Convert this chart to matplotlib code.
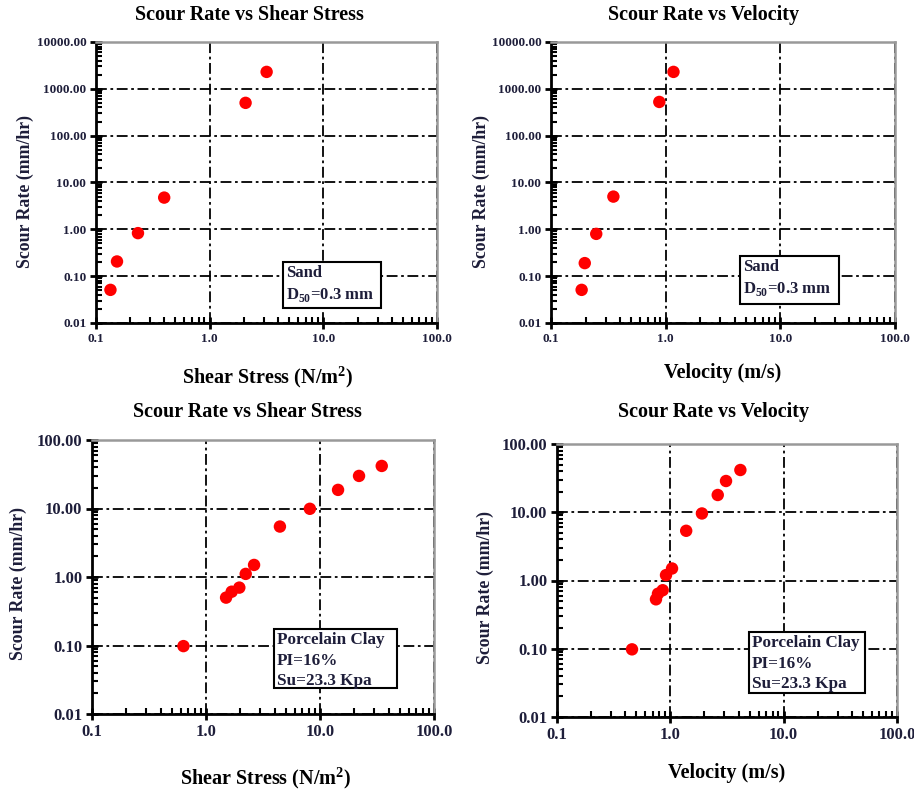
import matplotlib
matplotlib.use('Agg')
import matplotlib.pyplot as plt
from matplotlib.patches import Rectangle
from matplotlib.ticker import LogLocator, FixedLocator, FixedFormatter, NullFormatter

plt.rcParams['font.family'] = ['Liberation Serif']
plt.rcParams['font.weight'] = 'bold'
plt.rcParams['mathtext.fontset'] = 'custom'
plt.rcParams['mathtext.rm'] = 'Liberation Serif:bold'
plt.rcParams['mathtext.bf'] = 'Liberation Serif:bold'

# sand data
sand_shear = [0.134, 0.153, 0.234, 0.398, 2.07, 3.17]
sand_shear_rate = [0.051, 0.206, 0.83, 4.76, 502, 2300]
sand_vel = [0.185, 0.197, 0.248, 0.35, 0.88, 1.17]
sand_vel_rate = [0.051, 0.19, 0.80, 5.0, 525, 2300]

# porcelain clay data
clay_shear = [0.634, 1.50, 1.68, 1.96, 2.23, 2.64, 4.45, 8.15, 14.4, 22.0, 34.8]
clay_shear_rate = [0.098, 0.50, 0.61, 0.70, 1.11, 1.50, 5.45, 9.9, 18.7, 29.9, 41.8]
clay_vel = [0.459, 0.747, 0.778, 0.856, 0.916, 1.035, 1.38, 1.90, 2.62, 3.10, 4.15]
clay_vel_rate = [0.098, 0.53, 0.64, 0.72, 1.20, 1.50, 5.35, 9.6, 17.9, 28.7, 41.6]

x_ticks = [0.1, 1, 10, 100]
x_labels = ['0.1', '1.0', '10.0', '100.0']
sand_y_ticks = [0.01, 0.1, 1, 10, 100, 1000, 10000]
sand_y_labels = ['0.01', '0.10', '1.00', '10.00', '100.00', '1000.00', '10000.00']
clay_y_ticks = [0.01, 0.1, 1, 10, 100]
clay_y_labels = ['0.01', '0.10', '1.00', '10.00', '100.00']

sand_note = ['Sand', r'D$_{\mathregular{50}}$=0.3 mm']
clay_note = ['Porcelain Clay', 'PI=16%', 'Su=23.3 Kpa']

W, H = 914, 790
fig = plt.figure(figsize=(W / 100, H / 100), dpi=100)
lab_col = '#1e1e3a'


def px_axes(x0, y0, x1, y1):
    return fig.add_axes([x0 / W, 1 - y1 / H, (x1 - x0) / W, (y1 - y0) / H])


def style(ax, yticks, ylabels, fs):
    ax.set_xscale('log')
    ax.set_yscale('log')
    ax.set_xlim(0.1, 100)
    ax.set_ylim(yticks[0], yticks[-1])
    ax.xaxis.set_major_locator(FixedLocator(x_ticks))
    ax.xaxis.set_major_formatter(FixedFormatter(x_labels))
    ax.yaxis.set_major_locator(FixedLocator(yticks))
    ax.yaxis.set_major_formatter(FixedFormatter(ylabels))
    for a in (ax.xaxis, ax.yaxis):
        a.set_minor_locator(LogLocator(base=10, subs=range(2, 10), numticks=100))
        a.set_minor_formatter(NullFormatter())
    ax.tick_params(which='major', direction='inout', length=8, width=2,
                   labelsize=fs, labelcolor=lab_col, pad=3)
    ax.tick_params(which='minor', direction='in', length=4, width=1.5)
    ax.grid(True, which='major', color='black', lw=1.3, linestyle=(0, (6, 2, 1.5, 2)))
    ax.set_axisbelow(True)
    for s in ('left', 'bottom'):
        ax.spines[s].set_linewidth(2)
        ax.spines[s].set_color('black')
    for s in ('top', 'right'):
        ax.spines[s].set_linewidth(1.8)
        ax.spines[s].set_color('#999999')


def note(ax, box, lines, fs):
    x0, y0, x1, y1 = box
    rect = Rectangle((x0, y0), x1 - x0, y1 - y0, transform=ax.transAxes,
                     facecolor='white', edgecolor='black', lw=1.5, zorder=4)
    ax.add_patch(rect)
    t = ax.text(x0 + 0.008, y1 - 0.012, '\n'.join(lines), transform=ax.transAxes,
                fontsize=fs, ha='left', va='top', linespacing=1.35, color=lab_col, zorder=5)
    t.set_clip_path(rect)


panels = [
    ((96, 42, 437, 323), sand_shear, sand_shear_rate, sand_y_ticks, sand_y_labels, 9.5,
     'Scour Rate vs Shear Stress', (249, 15), r'Shear Stress (N/m$^{2}$)', (267, 377), (25, 192),
     (0.548, 0.053, 0.836, 0.217), sand_note, 12),
    ((551, 42, 895, 323), sand_vel, sand_vel_rate, sand_y_ticks, sand_y_labels, 9.5,
     'Scour Rate vs Velocity', (704, 15), 'Velocity (m/s)', (723, 373), (481, 192),
     (0.549, 0.068, 0.837, 0.238), sand_note, 12),
    ((92, 440, 434, 714), clay_shear, clay_shear_rate, clay_y_ticks, clay_y_labels, 12,
     'Scour Rate vs Shear Stress', (247, 412), r'Shear Stress (N/m$^{2}$)', (265, 778), (18, 583),
     (0.532, 0.095, 0.892, 0.31), clay_note, 12.3),
    ((557, 444, 897, 717), clay_vel, clay_vel_rate, clay_y_ticks, clay_y_labels, 12,
     'Scour Rate vs Velocity', (714, 412), 'Velocity (m/s)', (727, 773), (485, 588),
     (0.565, 0.088, 0.906, 0.311), clay_note, 12.3),
]

for (pos, xs, ys, yt, yl, fs, title, tpos, xlab, xpos, ypos, box, lines, nfs) in panels:
    ax = px_axes(*pos)
    style(ax, yt, yl, fs)
    ax.scatter(xs, ys, s=80, color='#ff0000', edgecolors='none', zorder=3, clip_on=False)
    note(ax, box, lines, nfs)
    fig.text(tpos[0] / W, 1 - tpos[1] / H, title, fontsize=14.5, ha='center', va='center')
    fig.text(xpos[0] / W, 1 - xpos[1] / H, xlab, fontsize=14.5, ha='center', va='center')
    fig.text(ypos[0] / W, 1 - ypos[1] / H, 'Scour Rate (mm/hr)', fontsize=12.8,
             ha='center', va='center', rotation=90, color=lab_col)

fig.savefig('out.png', dpi=100)
